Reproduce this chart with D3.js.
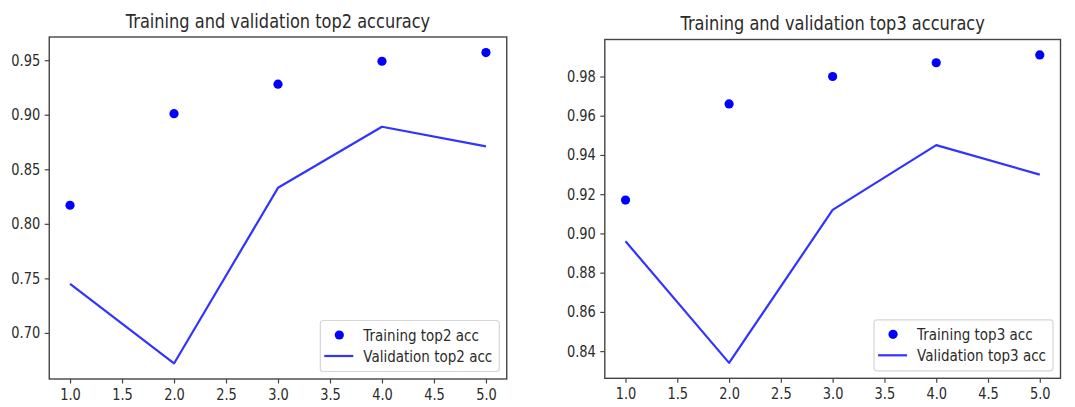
<!DOCTYPE html>
<html>
<head>
<meta charset="utf-8">
<script src="https://cdn.jsdelivr.net/npm/d3@7"></script>
<style>
  html, body { margin: 0; padding: 0; background: #fff; }
  svg { display: block; }
  text {
    font-family: "DejaVu Sans", sans-serif;
    fill: #2b2b2b;
    /* slightly tall lettering */
    transform-box: fill-box;
    transform-origin: center;
    transform: scaleY(1.18);
  }
</style>
</head>
<body>
<svg id="chart" width="1075" height="407"></svg>
<script>
// Epochs on the x axis
const epochs = [1, 2, 3, 4, 5];
const xTicks = [1.0, 1.5, 2.0, 2.5, 3.0, 3.5, 4.0, 4.5, 5.0];

// Top-2 accuracy per epoch
const top2Train = [0.817, 0.901, 0.928, 0.949, 0.957];
const top2Val   = [0.745, 0.672, 0.833, 0.889, 0.871];
const top2Ticks = [0.70, 0.75, 0.80, 0.85, 0.90, 0.95];

// Top-3 accuracy per epoch
const top3Train = [0.917, 0.966, 0.980, 0.987, 0.991];
const top3Val   = [0.896, 0.834, 0.912, 0.945, 0.930];
const top3Ticks = [0.84, 0.86, 0.88, 0.90, 0.92, 0.94, 0.96, 0.98];

const panels = [
  { title: "Training and validation top2 accuracy",
    train: top2Train, val: top2Val, yTicks: top2Ticks,
    trainLabel: "Training top2 acc", valLabel: "Validation top2 acc",
    box: { left: 49.25, right: 506.75, top: 37, bottom: 379 } },
  { title: "Training and validation top3 accuracy",
    train: top3Train, val: top3Val, yTicks: top3Ticks,
    trainLabel: "Training top3 acc", valLabel: "Validation top3 acc",
    box: { left: 604.8, right: 1060.5, top: 39.5, bottom: 378.3 } }
];

const svg = d3.select("#chart");
const blue = "#0000ff";
const lineBlue = "#3333ff";
const spine = "#454545";

// Autoscale with a 5% margin on each side, like matplotlib
function padded(extent) {
  const m = (extent[1] - extent[0]) * 0.05;
  return [extent[0] - m, extent[1] + m];
}

panels.forEach(p => {
  const b = p.box;
  const x = d3.scaleLinear().domain(padded(d3.extent(epochs))).range([b.left, b.right]);
  const y = d3.scaleLinear()
    .domain(padded(d3.extent(p.train.concat(p.val))))
    .range([b.bottom, b.top]);

  const g = svg.append("g");

  // validation line
  const line = d3.line().x((d, i) => x(epochs[i])).y(d => y(d));
  g.append("path")
    .datum(p.val)
    .attr("d", line)
    .attr("fill", "none")
    .attr("stroke", lineBlue)
    .attr("stroke-width", 2.2)
    .attr("stroke-linejoin", "round");

  // training points
  g.selectAll("circle.train")
    .data(p.train)
    .join("circle")
    .attr("class", "train")
    .attr("cx", (d, i) => x(epochs[i]))
    .attr("cy", d => y(d))
    .attr("r", 4.6)
    .attr("fill", blue);

  // x axis
  const xa = g.append("g")
    .attr("transform", `translate(0,${b.bottom})`)
    .call(d3.axisBottom(x).tickValues(xTicks).tickFormat(d3.format(".1f"))
      .tickSizeInner(4.5).tickSizeOuter(0).tickPadding(6));
  xa.select(".domain").remove();
  xa.selectAll("line").attr("stroke", spine).attr("stroke-width", 1.2);
  xa.selectAll("text").attr("font-size", 13).attr("fill", "#2b2b2b")
    .attr("font-family", "DejaVu Sans");

  // y axis
  const ya = g.append("g")
    .attr("transform", `translate(${b.left},0)`)
    .call(d3.axisLeft(y).tickValues(p.yTicks).tickFormat(d3.format(".2f"))
      .tickSizeInner(4.5).tickSizeOuter(0).tickPadding(4.5));
  ya.select(".domain").remove();
  ya.selectAll("line").attr("stroke", spine).attr("stroke-width", 1.2);
  ya.selectAll("text").attr("font-size", 13).attr("fill", "#2b2b2b")
    .attr("font-family", "DejaVu Sans");

  // axes frame
  g.append("rect")
    .attr("x", b.left).attr("y", b.top)
    .attr("width", b.right - b.left).attr("height", b.bottom - b.top)
    .attr("fill", "none").attr("stroke", spine).attr("stroke-width", 1.4);

  // title
  g.append("text")
    .attr("x", (b.left + b.right) / 2)
    .attr("y", b.top - 10)
    .attr("text-anchor", "middle")
    .attr("font-size", 16.2)
    .text(p.title);

  // legend, lower right
  const lg = g.append("g");
  const rows = [p.trainLabel, p.valLabel];
  const texts = rows.map((t, i) => lg.append("text")
    .attr("font-size", 13.5)
    .attr("dy", "0.35em")
    .text(t));
  const textW = d3.max(texts, t => t.node().getComputedTextLength());
  const boxW = 43 + textW + 7;
  const boxH = 51;
  const lx = b.right - 7.5 - boxW;
  const ly = b.bottom - 7.5 - boxH;
  lg.insert("rect", ":first-child")
    .attr("x", lx).attr("y", ly)
    .attr("width", boxW).attr("height", boxH)
    .attr("rx", 3).attr("ry", 3)
    .attr("fill", "#ffffff").attr("fill-opacity", 0.85)
    .attr("stroke", "#d6d6d6").attr("stroke-width", 1.2);
  const rowY = [ly + 14.5, ly + 35.5];
  texts.forEach((t, i) => t.attr("x", lx + 43).attr("y", rowY[i]));
  lg.append("circle")
    .attr("cx", lx + 19).attr("cy", rowY[0]).attr("r", 4.6).attr("fill", blue);
  lg.append("line")
    .attr("x1", lx + 4).attr("x2", lx + 33)
    .attr("y1", rowY[1]).attr("y2", rowY[1])
    .attr("stroke", lineBlue).attr("stroke-width", 2.2);
});
</script>
</body>
</html>
